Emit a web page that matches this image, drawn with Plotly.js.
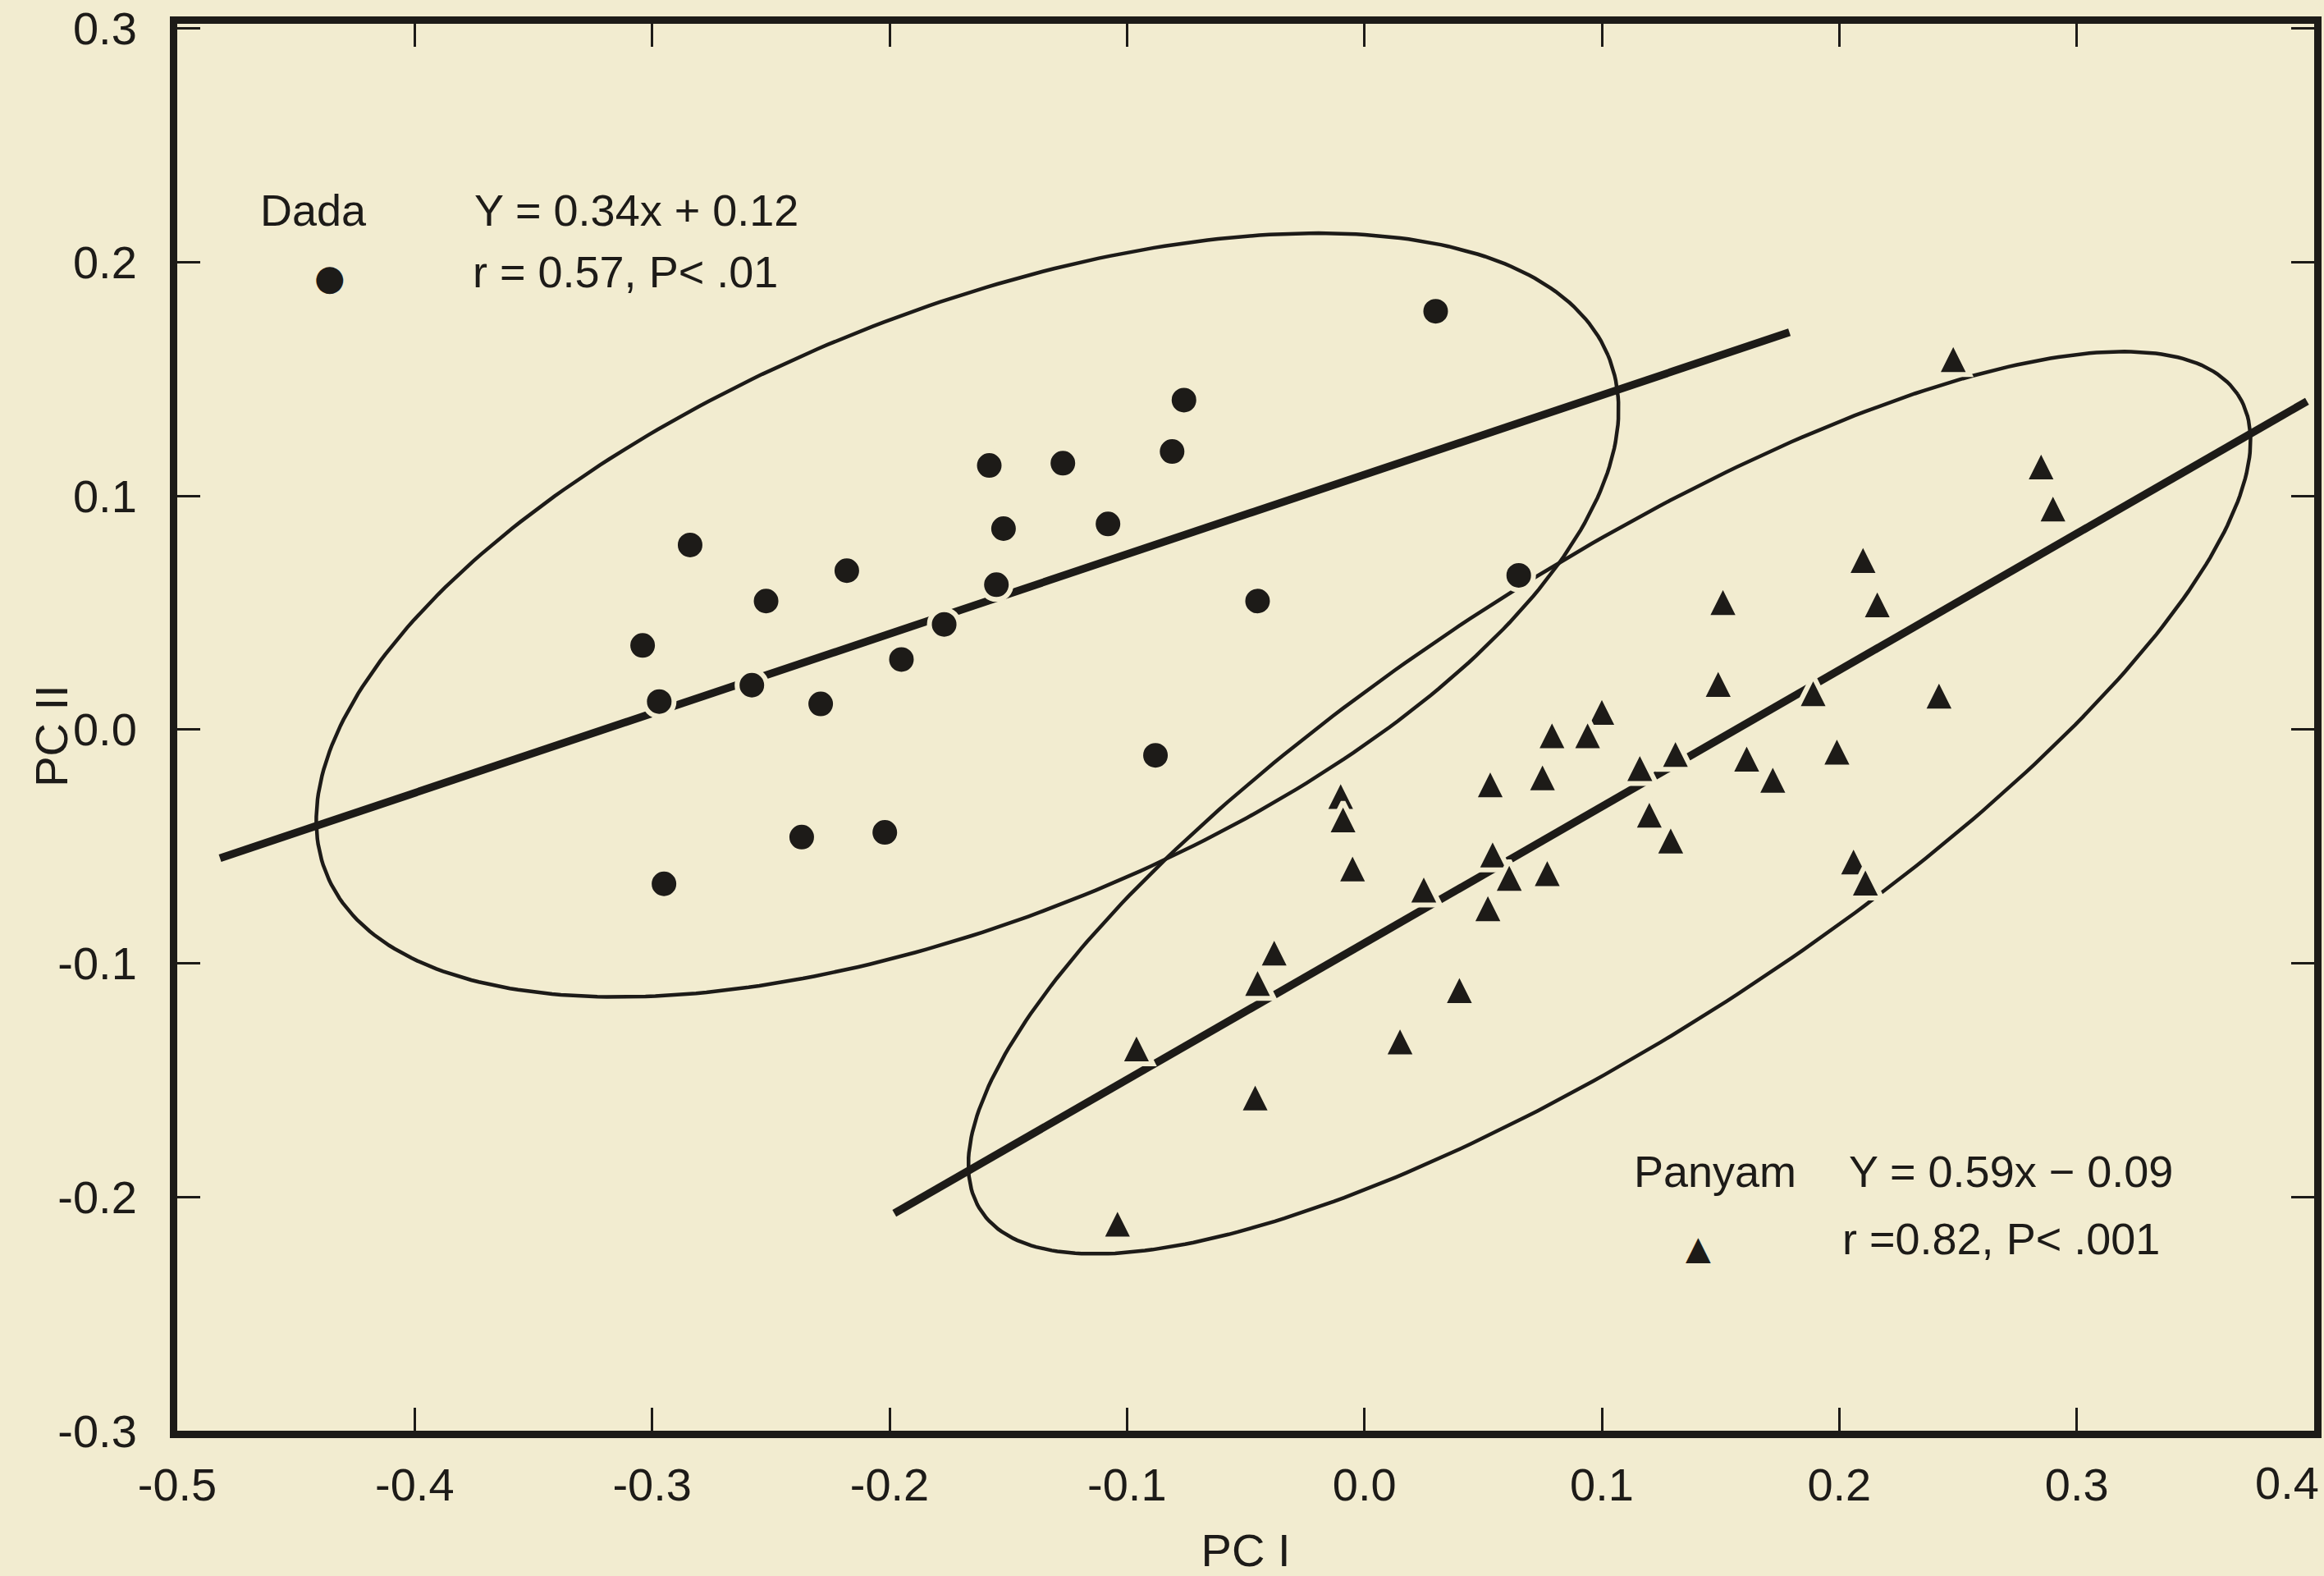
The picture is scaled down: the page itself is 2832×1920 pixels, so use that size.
<!DOCTYPE html>
<html>
<head>
<meta charset="utf-8">
<script src="https://cdn.plot.ly/plotly-3.0.1.min.js"></script>
<style>
html,body{margin:0;padding:0;background:#f2ecd0;}
#chart{width:2832px;height:1920px;}
</style>
</head>
<body>
<div id="chart"></div>
<script>
// ---- data ----
const dadaX = [-0.076, -0.081, -0.158, -0.127, -0.108, -0.152, -0.284, -0.218, -0.155, -0.252, -0.177, -0.304,
               -0.195, -0.258, -0.297, -0.229, -0.088, -0.237, -0.202, -0.295, 0.030, -0.045, 0.065];
const dadaY = [0.141, 0.119, 0.113, 0.114, 0.088, 0.086, 0.079, 0.068, 0.062, 0.055, 0.045, 0.036,
               0.030, 0.019, 0.012, 0.011, -0.011, -0.046, -0.044, -0.066, 0.179, 0.055, 0.066];

const panyamX = [0.248, 0.285, 0.290, 0.210, 0.151, 0.216, 0.149, 0.189, 0.242, 0.100, 0.079, 0.094,
                 0.199, 0.131, 0.161, 0.116, 0.075, 0.172, 0.053, -0.010, -0.009, 0.120, 0.129, 0.054,
                 -0.005, 0.206, 0.211, 0.061, 0.077, 0.025, 0.052, -0.038, -0.045, 0.040, 0.015,
                 -0.096, -0.046, -0.104];
const panyamY = [0.159, 0.113, 0.095, 0.073, 0.055, 0.054, 0.020, 0.016, 0.015, 0.008, -0.002, -0.002,
                 -0.009, -0.010, -0.012, -0.016, -0.020, -0.021, -0.023, -0.028, -0.038, -0.036, -0.047, -0.053,
                 -0.059, -0.056, -0.065, -0.063, -0.061, -0.068, -0.076, -0.095, -0.108, -0.111, -0.133,
                 -0.136, -0.157, -0.211];

// regression lines as drawn (end points)
const dadaLineX = [-0.482, 0.179];
const dadaLineY = [-0.055, 0.170];
const panyamLineX = [-0.198, 0.397];
const panyamLineY = [-0.207, 0.1405];

// enclosing ellipses: centre, semi-axes, tilt (data units)
const dadaEllipse = {cx: -0.1672, cy: 0.049, a: 0.2918, b: 0.1295, angleDeg: 22.4};
const panyamEllipse = {cx: 0.1032, cy: -0.0313, a: 0.3171, b: 0.0981, angleDeg: 33.46};

// axes
const xTickVals = [-0.5, -0.4, -0.3, -0.2, -0.1, 0.0, 0.1, 0.2, 0.3, 0.4];
const xTickText = ['-0.5', '-0.4', '-0.3', '-0.2', '-0.1', '0.0', '0.1', '0.2', '0.3', ''];
const xEdgeLabel = '0.4';   // last x label, kept inside the page edge
const yTickVals = [-0.3, -0.2, -0.1, 0.0, 0.1, 0.2, 0.3];
const yTickText = ['-0.3', '-0.2', '-0.1', '0.0', '0.1', '0.2', '0.3'];

// ---- styling ----
const BG = '#f2ecd0';
const INK = '#1d1b18';
const FONT = 'Liberation Sans, Arial, Helvetica, sans-serif';

function ellipseCurve(e, n) {
  const th = e.angleDeg * Math.PI / 180;
  const xs = [], ys = [];
  for (let i = 0; i <= n; i++) {
    const t = 2 * Math.PI * i / n;
    xs.push(e.cx + e.a * Math.cos(th) * Math.cos(t) - e.b * Math.sin(th) * Math.sin(t));
    ys.push(e.cy + e.a * Math.sin(th) * Math.cos(t) + e.b * Math.cos(th) * Math.sin(t));
  }
  return {x: xs, y: ys};
}

const dE = ellipseCurve(dadaEllipse, 360);
const pE = ellipseCurve(panyamEllipse, 360);

const triSize = 40;

const traces = [
  {x: dE.x, y: dE.y, mode: 'lines', line: {color: INK, width: 4.5}, hoverinfo: 'skip'},
  {x: pE.x, y: pE.y, mode: 'lines', line: {color: INK, width: 4.5}, hoverinfo: 'skip'},
  {x: dadaLineX, y: dadaLineY, mode: 'lines', line: {color: INK, width: 9.5}},
  {x: panyamLineX, y: panyamLineY, mode: 'lines', line: {color: INK, width: 9.5}},
  {x: dadaX, y: dadaY, mode: 'markers', name: 'Dada',
   marker: {symbol: 'circle', size: 36, color: INK, line: {color: BG, width: 6}}},
  {x: panyamX, y: panyamY, mode: 'markers', name: 'Panyam',
   marker: {symbol: 'arrow-down', angle: 180, standoff: triSize / 2, size: triSize, color: INK,
            line: {color: BG, width: 6}}}
];

const axisCommon = {
  ticks: 'inside', ticklen: 28, tickwidth: 3, tickcolor: INK,
  showline: true, linewidth: 9, linecolor: INK, mirror: 'ticks',
  showgrid: false, zeroline: false, automargin: false,
  tickfont: {family: FONT, size: 56, color: INK}
};

const legendFont = {family: FONT, size: 54, color: INK};
const annotations = [
  {text: 'Dada', x: 0.0379, y: 0.8676},
  {text: 'Y = 0.34x + 0.12', x: 0.1382, y: 0.8676},
  {text: 'r = 0.57, P< .01', x: 0.1374, y: 0.8238},
  {text: 'Panyam', x: 0.6810, y: 0.1841},
  {text: 'Y = 0.59x − 0.09', x: 0.7814, y: 0.1841},
  {text: 'r =0.82, P< .001', x: 0.7786, y: 0.1365}
].map(a => Object.assign({xref: 'paper', yref: 'paper', xanchor: 'left', yanchor: 'middle',
                          showarrow: false, font: legendFont}, a));
annotations.push({text: '●', x: 0.0714, y: 0.8195, xref: 'paper', yref: 'paper', xanchor: 'center',
                  yanchor: 'middle', showarrow: false, font: {family: 'DejaVu Sans', size: 43, color: INK}});
annotations.push({text: '▲', x: 0.7117, y: 0.1301, xref: 'paper', yref: 'paper', xanchor: 'center',
                  yanchor: 'middle', showarrow: false, font: {family: 'DejaVu Sans', size: 40, color: INK}});
// y-axis title, placed where the original sets it
annotations.push({text: 'PC II', x: -0.0588, y: 0.4936, xref: 'paper', yref: 'paper', xanchor: 'center',
                  yanchor: 'middle', textangle: -90, showarrow: false,
                  font: {family: FONT, size: 56, color: INK}});
// last x tick label, pulled in so it stays on the page
annotations.push({text: xEdgeLabel, x: 1.0030, y: -0.0368, xref: 'paper', yref: 'paper', xanchor: 'right',
                  yanchor: 'middle', showarrow: false, font: {family: FONT, size: 56, color: INK}});

const layout = {
  width: 2832, height: 1920,
  margin: {l: 216, r: 12, t: 29, b: 177, pad: 0},
  paper_bgcolor: BG, plot_bgcolor: BG,
  showlegend: false,
  xaxis: Object.assign({}, axisCommon, {
    range: [-0.5, 0.4], tickmode: 'array', tickvals: xTickVals, ticktext: xTickText,
    ticklabelstandoff: 9,
    title: {text: 'PC I', font: {family: FONT, size: 56, color: INK}, standoff: 36}
  }),
  yaxis: Object.assign({}, axisCommon, {
    range: [-0.3, 0.302], tickmode: 'array', tickvals: yTickVals, ticktext: yTickText,
    ticklabelstandoff: 29
  }),
  annotations: annotations
};

Plotly.newPlot('chart', traces, layout, {displayModeBar: false, staticPlot: true});
</script>
</body>
</html>
